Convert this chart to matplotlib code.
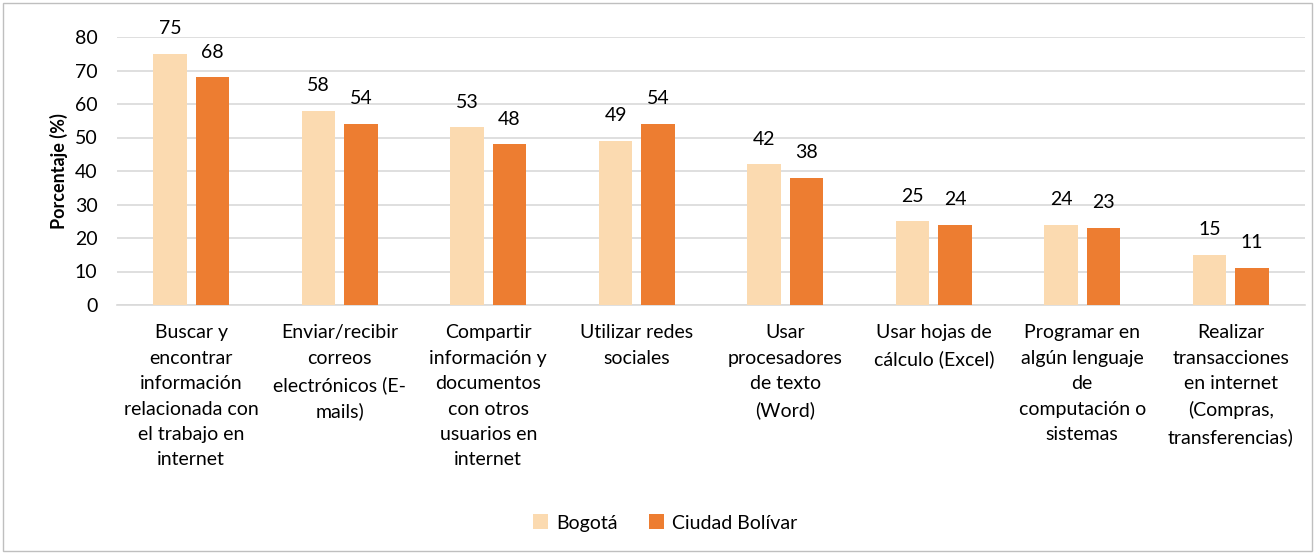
import matplotlib
matplotlib.use("Agg")
import matplotlib.pyplot as plt
import numpy as np
from matplotlib.patches import Rectangle

categories = [
    "Buscar y\nencontrar\ninformación\nrelacionada con\nel trabajo en\ninternet",
    "Enviar/recibir\ncorreos\nelectrónicos (E-\nmails)",
    "Compartir\ninformación y\ndocumentos\ncon otros\nusuarios en\ninternet",
    "Utilizar redes\nsociales",
    "Usar\nprocesadores\nde texto\n(Word)",
    "Usar hojas de\ncálculo (Excel)",
    "Programar en\nalgún lenguaje\nde\ncomputación o\nsistemas",
    "Realizar\ntransacciones\nen internet\n(Compras,\ntransferencias)",
]
bogota = [75, 58, 53, 49, 42, 25, 24, 15]
ciudad_bolivar = [68, 54, 48, 54, 38, 24, 23, 11]
series_names = ["Bogotá", "Ciudad Bolívar"]
yticks = [0, 10, 20, 30, 40, 50, 60, 70, 80]

plt.rcParams['font.family'] = ['Lato', 'DejaVu Sans']

fig = plt.figure(figsize=(13.15, 5.54), dpi=100)
ax = fig.add_axes([117/1315, 1-305/554, (1305-117)/1315, (305-37)/554])

x = np.arange(len(categories))
w = 0.225
gap = 0.06
c1 = "#FBDAB0"
c2 = "#ED7D31"
b1 = ax.bar(x - (w+gap)/2, bogota, w, color=c1, label=series_names[0], zorder=3)
b2 = ax.bar(x + (w+gap)/2, ciudad_bolivar, w, color=c2, label=series_names[1], zorder=3)
for bars, vals in ((b1, bogota), (b2, ciudad_bolivar)):
    for r, v in zip(bars, vals):
        ax.annotate(f"{v}", (r.get_x()+r.get_width()/2, v), xytext=(0, 12),
                    textcoords="offset points", ha="center", va="bottom",
                    fontsize=14, color="#000000")

ax.set_xlim(-0.5, len(categories)-0.5)
ax.set_ylim(0, 80)
ax.set_yticks(yticks)
ax.set_yticklabels([str(t) for t in yticks], fontsize=14)
ax.yaxis.grid(True, color="#D9D9D9", linewidth=1.2, zorder=0)
ax.set_axisbelow(True)
for s in ["top", "right", "left"]:
    ax.spines[s].set_visible(False)
ax.spines["bottom"].set_color("#D9D9D9")
ax.spines["bottom"].set_linewidth(1.2)
ax.tick_params(axis="y", length=0, pad=14)
ax.tick_params(axis="x", length=0, pad=14)
ax.set_xticks(x)
ax.set_xticklabels(categories, fontsize=14, linespacing=1.6)
ax.set_ylabel("Porcentaje (%)", fontsize=13, fontweight="bold", labelpad=5)

leg = fig.legend(handles=[b1, b2], labels=series_names, loc="center",
                 bbox_to_anchor=(665/1315, 1-523/554), ncol=2, frameon=False,
                 fontsize=14, handlelength=0.8, handleheight=0.8,
                 handletextpad=0.4, columnspacing=1.6)

fig.patches.append(Rectangle((3/1315, 3/554), 1-6/1315, 1-6/554,
                             transform=fig.transFigure, fill=False,
                             edgecolor="#BFBFBF", linewidth=1))

fig.savefig("out.png", dpi=100)
